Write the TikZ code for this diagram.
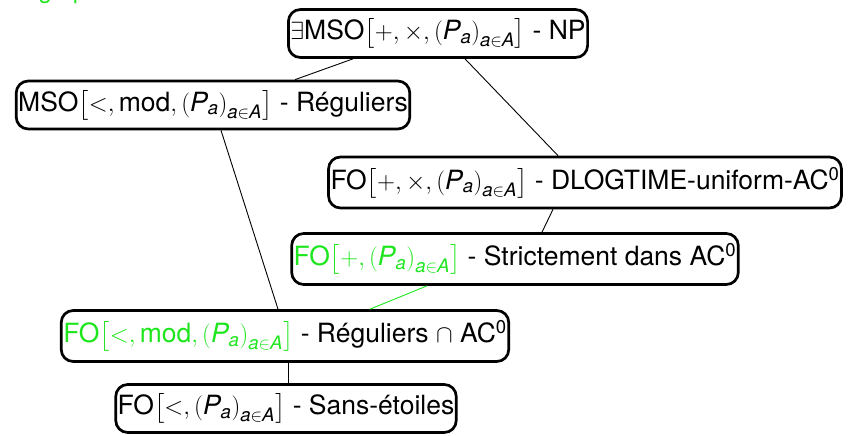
\documentclass[tikz,border=0pt]{standalone}
\usepackage{amsmath}
\usepackage{fontspec}
\setmainfont{TeX Gyre Heros}
\usetikzlibrary{calc}
\definecolor{vert}{RGB}{30,230,30}
\newcommand\famP{\left(\textit{P}_{\textit{a}}\right)_{\textit{a}\in\textit{A}}}
\newcommand\zero{\textsuperscript{0}}
\begin{document}
\begin{tikzpicture}[x=1pt,y=1pt,
  box/.style={draw=black,line width=2.7pt,rounded corners=12pt,inner xsep=2pt,inner ysep=3pt,
    minimum height=48pt,font=\fontsize{26.5}{30}\selectfont},
  tallbox/.style={box,minimum height=51pt},
  edge/.style={draw=black,line width=0.9pt},
  gedge/.style={draw=vert,line width=0.9pt}]
\clip (0,0) rectangle (849,-436);
\useasboundingbox (0,0) rectangle (849,-436);
\node[anchor=base west,text=vert,font=\fontsize{24}{28}\selectfont] (leg) at (35,1) {graphe};
\node[box] (n1) at (438,-33.5) {$\exists$MSO$\left[+,\times,\famP\right]$ - NP};
\node[box] (n2) at (213,-105) {MSO$\left[<,\text{mod},\famP\right]$ - Réguliers};
\node[tallbox] (n3) at (585,-182.5) {FO$\left[+,\times,\famP\right]$ - DLOGTIME-uniform-AC\zero};
\node[tallbox] (n4) at (515,-259) {\textcolor{vert}{FO$\left[+,\famP\right]$} - Strictement dans AC\zero};
\node[tallbox] (n5) at (285,-336) {\textcolor{vert}{FO$\left[<,\text{mod},\famP\right]$} - Réguliers $\cap$ AC\zero};
\node[box] (n6) at (286,-408.5) {FO$\left[<,\famP\right]$ - Sans-étoiles};
\draw[edge] ($(n1.south)+(-85,0)$) -- ($(n2.north)+(82,0)$);
\draw[edge] ($(n1.south)+(27,0)$) -- ($(n3.north)+(-27,0)$);
\draw[edge] ($(n2.south)+(8,0)$) -- ($(n5.north)+(-7,0)$);
\draw[edge] ($(n3.south)+(-32,0)$) -- ($(n4.north)+(27,0)$);
\draw[gedge] ($(n4.south)+(-88,0)$) -- ($(n5.north)+(85,0)$);
\draw[edge] ($(n5.south)+(3,0)$) -- (n6.north -| {$(n5.south)+(3,0)$});
\end{tikzpicture}
\end{document}
